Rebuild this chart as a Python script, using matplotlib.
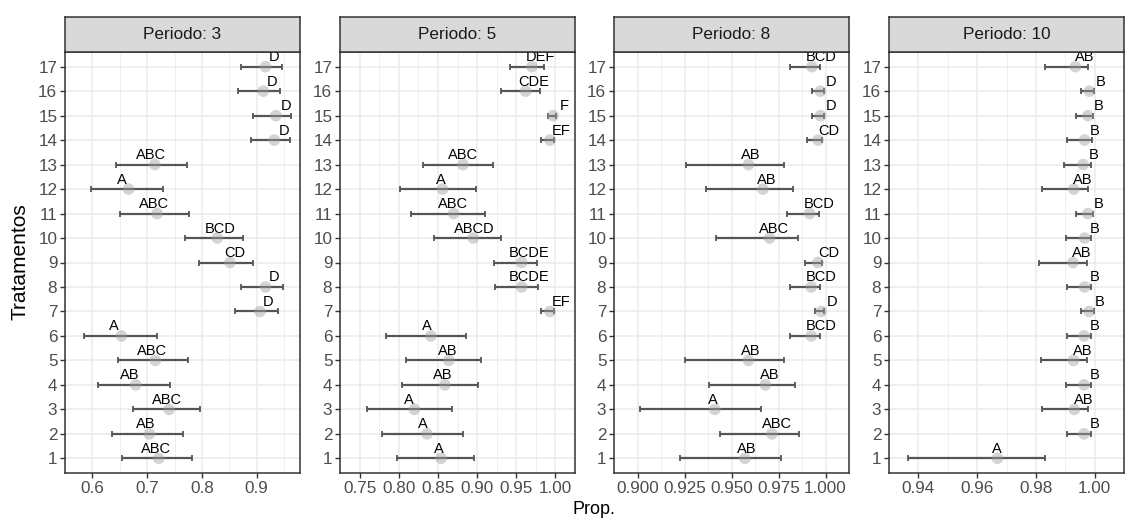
import matplotlib
matplotlib.use("Agg")
import matplotlib.pyplot as plt
import numpy as np

plt.rcParams['font.family'] = ['Liberation Sans', 'DejaVu Sans']

# treatments 1..17 (bottom to top)
tratamentos = list(range(1, 18))
periodos = [3, 5, 8, 10]

# estimated proportion, lower and upper limits, letters per period
p3_mean = [0.721, 0.704, 0.740, 0.679, 0.715, 0.653, 0.906, 0.916, 0.851, 0.828,
           0.718, 0.666, 0.714, 0.932, 0.935, 0.912, 0.916]
p3_low = [0.654, 0.636, 0.674, 0.610, 0.646, 0.584, 0.860, 0.871, 0.795, 0.769,
          0.651, 0.597, 0.644, 0.890, 0.894, 0.865, 0.871]
p3_up = [0.781, 0.765, 0.797, 0.742, 0.774, 0.718, 0.939, 0.948, 0.894, 0.875,
         0.777, 0.729, 0.772, 0.960, 0.962, 0.943, 0.947]
p3_lab = ['ABC', 'AB', 'ABC', 'AB', 'ABC', 'A', 'D', 'D', 'CD', 'BCD',
          'ABC', 'A', 'ABC', 'D', 'D', 'D', 'D']

p5_mean = [0.854, 0.836, 0.820, 0.859, 0.864, 0.841, 0.993, 0.957, 0.957, 0.895,
           0.870, 0.856, 0.882, 0.993, 0.997, 0.962, 0.970]
p5_low = [0.798, 0.779, 0.759, 0.804, 0.809, 0.784, 0.981, 0.923, 0.922, 0.845,
          0.815, 0.801, 0.831, 0.982, 0.991, 0.930, 0.942]
p5_up = [0.896, 0.882, 0.868, 0.901, 0.905, 0.886, 0.998, 0.978, 0.977, 0.930,
         0.910, 0.899, 0.920, 0.998, 1.001, 0.980, 0.986]
p5_lab = ['A', 'A', 'A', 'AB', 'AB', 'A', 'EF', 'BCDE', 'BCDE', 'ABCD',
          'ABC', 'A', 'ABC', 'EF', 'F', 'CDE', 'DEF']

p8_mean = [0.9571, 0.9715, 0.9412, 0.968, 0.959, 0.9924, 0.9977, 0.9924, 0.996, 0.9703,
           0.9915, 0.9667, 0.959, 0.996, 0.9973, 0.9973, 0.9927]
p8_low = [0.9227, 0.9438, 0.9015, 0.938, 0.9253, 0.981, 0.9942, 0.981, 0.989, 0.9417,
          0.9795, 0.9367, 0.9256, 0.990, 0.993, 0.993, 0.981]
p8_up = [0.9764, 0.986, 0.9656, 0.984, 0.978, 0.997, 0.9992, 0.997, 0.998, 0.9852,
         0.9965, 0.9826, 0.978, 0.998, 0.999, 0.999, 0.997]
p8_lab = ['AB', 'ABC', 'A', 'AB', 'AB', 'BCD', 'D', 'BCD', 'CD', 'ABC',
          'BCD', 'AB', 'AB', 'CD', 'D', 'D', 'BCD']

p10_mean = [0.9669, 0.9964, 0.9931, 0.9964, 0.9928, 0.9964, 0.9981, 0.9966, 0.9926, 0.9966,
            0.9977, 0.9929, 0.9961, 0.9966, 0.9977, 0.9982, 0.9934]
p10_low = [0.9364, 0.9905, 0.982, 0.9902, 0.9816, 0.9905, 0.9953, 0.9905, 0.9811, 0.9902,
           0.9938, 0.982, 0.9897, 0.9907, 0.9938, 0.9952, 0.983]
p10_up = [0.9831, 0.9987, 0.9976, 0.9987, 0.9974, 0.9987, 0.9997, 0.9988, 0.9974, 0.9987,
          0.9993, 0.9976, 0.9987, 0.999, 0.9993, 0.9997, 0.9977]
p10_lab = ['A', 'B', 'AB', 'B', 'AB', 'B', 'B', 'B', 'AB', 'B',
           'B', 'AB', 'B', 'B', 'B', 'B', 'AB']

means = [p3_mean, p5_mean, p8_mean, p10_mean]
lows = [p3_low, p5_low, p8_low, p10_low]
ups = [p3_up, p5_up, p8_up, p10_up]
labs = [p3_lab, p5_lab, p8_lab, p10_lab]

xlims = [(0.565, 0.979), (0.748, 1.011), (0.897, 1.0038), (0.9334, 1.0027)]
xticks = [[0.6, 0.7, 0.8, 0.9],
          [0.75, 0.80, 0.85, 0.90, 0.95, 1.00],
          [0.900, 0.925, 0.950, 0.975, 1.000],
          [0.94, 0.96, 0.98, 1.00]]
xfmt = ['{:.1f}', '{:.2f}', '{:.3f}', '{:.2f}']

fig = plt.figure(figsize=(11.34, 5.25), dpi=100)
W, H = 1134, 525
lefts = [65, 340, 614, 889]
pw = 235
top, bottom, strip_top = 52, 473, 17

for i in range(4):
    ax = fig.add_axes([lefts[i] / W, 1 - bottom / H, pw / W, (bottom - top) / H])
    ax.set_xlim(*xlims[i])
    ax.set_ylim(0.4, 17.6)
    ax.set_xticks(xticks[i])
    ax.set_xticklabels([xfmt[i].format(t) for t in xticks[i]])
    mt = np.array(xticks[i])
    step = mt[1] - mt[0]
    ax.set_xticks(np.concatenate([mt - step / 2, [mt[-1] + step / 2]]), minor=True)
    ax.set_yticks(tratamentos)
    ax.grid(which='major', color='#EBEBEB', lw=1.1)
    ax.grid(which='minor', axis='x', color='#EBEBEB', lw=0.55)
    ax.set_axisbelow(True)
    for s in ax.spines.values():
        s.set_color('#333333')
        s.set_linewidth(1.1)
    ax.tick_params(which='major', length=3.5, width=1, color='#333333',
                   labelsize=12.3, labelcolor='#4D4D4D', pad=2)
    ax.tick_params(which='minor', length=0)

    m = np.array(means[i])
    lo = np.array(lows[i])
    up = np.array(ups[i])
    y = np.array(tratamentos)
    ax.errorbar(m, y, xerr=[m - lo, up - m], fmt='none', ecolor='#555555',
                elinewidth=1.6, capsize=2.2, capthick=1.3, zorder=2)
    ax.scatter(m, y, s=70, color='#A0A0A0', alpha=0.45, edgecolors='none', zorder=3)

    # letters sit above the point, pushed a bit away from the panel centre
    x0, x1 = xlims[i]
    for xv, yv, t in zip(m, y, labs[i]):
        frac = (xv - x0) / (x1 - x0)
        txt = ax.annotate(t, (xv, yv), xytext=(18 * (frac - 0.5), 1.8),
                          textcoords='offset points', ha='center', va='bottom',
                          fontsize=10.5, color='black', annotation_clip=False, zorder=4)
        txt.set_clip_path(ax.patch)
        txt.set_clip_on(True)

    # strip
    sax = fig.add_axes([lefts[i] / W, 1 - top / H, pw / W, (top - strip_top) / H])
    sax.set_xticks([])
    sax.set_yticks([])
    sax.set_facecolor('#D9D9D9')
    for s in sax.spines.values():
        s.set_color('#333333')
        s.set_linewidth(1.1)
    sax.text(0.5, 0.5, 'Periodo: {}'.format(periodos[i]), ha='center', va='center',
             fontsize=12.3, color='#1A1A1A', transform=sax.transAxes)

fig.text(20 / W, 1 - 262 / H, 'Tratamentos', rotation=90, ha='center', va='center', fontsize=15)
fig.text(594 / W, 1 - 509 / H, 'Prop.', ha='center', va='center', fontsize=13)

fig.savefig('out.png', dpi=100)
